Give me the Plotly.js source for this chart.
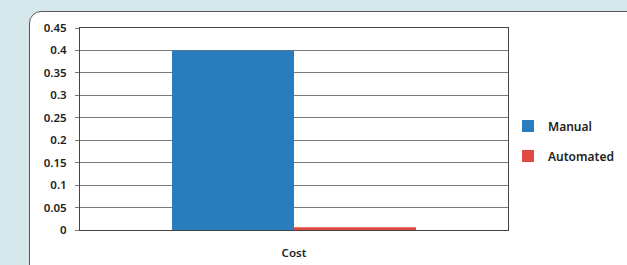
<!DOCTYPE html>
<html><head><meta charset="utf-8">
<script src="https://cdn.plot.ly/plotly-3.0.1.min.js"></script>
<style>
html,body{margin:0;padding:0;background:#d6e8ec;width:627px;height:265px;overflow:hidden;}
#box{position:absolute;left:29px;top:11px;width:620px;height:290px;background:#fff;border:1.5px solid #555;border-radius:12px;}
#chart{position:absolute;left:0;top:0;width:627px;height:265px;}
</style></head>
<body>
<div id="box"></div>
<div id="chart"></div>
<script>
const categories = ["Cost"];
const manualValues = [0.4];
const automatedValues = [0.006];
const yTickVals = [0,0.05,0.1,0.15,0.2,0.25,0.3,0.35,0.4,0.45];
const yTickText = ["0","0.05","0.1","0.15","0.2","0.25","0.3","0.35","0.4","0.45"];

const font = {family:"Noto Sans, Open Sans, sans-serif", size:11.5, color:"#222", weight:600};
const data = [
  {type:"bar", name:"Manual", x:categories, y:manualValues, marker:{color:"#2a7dbc"}, legendgroup:"a"},
  {type:"bar", name:"Automated", x:categories, y:automatedValues, marker:{color:"#e04844"}, legendgroup:"b"}
];
const layout = {
  width:627, height:265,
  margin:{l:80, r:119, t:28, b:35, autoexpand:false},
  paper_bgcolor:"rgba(0,0,0,0)", plot_bgcolor:"#fff",
  barmode:"group", bargap:0.43, bargroupgap:0,
  font:font,
  showlegend:true,
  legend:{x:1.0, xanchor:"left", y:0.44, yanchor:"middle", traceorder:"grouped", tracegroupgap:11, itemwidth:30,
    font:{family:"Noto Sans, Open Sans, sans-serif", size:12, color:"#222", weight:600}, bgcolor:"rgba(0,0,0,0)"},
  xaxis:{type:"category", showline:true, mirror:true, linecolor:"#444", linewidth:1, ticks:"", showgrid:false,
    ticklabelstandoff:12, tickfont:font, fixedrange:true},
  yaxis:{range:[0,0.45], tickvals:yTickVals, ticktext:yTickText, showline:true, mirror:true, linecolor:"#444", linewidth:1,
    ticks:"outside", ticklen:4, tickcolor:"#777", showgrid:true, gridcolor:"#7a7a7a", gridwidth:1, zeroline:false,
    tickfont:font, ticklabelstandoff:6, fixedrange:true}
};
Plotly.newPlot("chart", data, layout, {displayModeBar:false, staticPlot:true});
</script>
</body></html>
